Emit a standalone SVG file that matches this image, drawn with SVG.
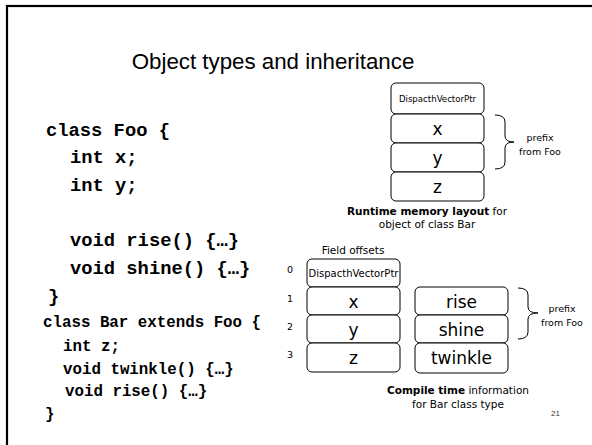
<svg xmlns="http://www.w3.org/2000/svg" width="592" height="445" viewBox="0 0 592 445">
  <style>
    .frame { fill: none; stroke: #000; stroke-width: 2.2; }
    .title { font-family: "Liberation Sans", Arial, sans-serif; font-size: 22.3px; fill: #000; text-anchor: middle; }
    .code1 { font-family: "Liberation Mono", "Courier New", monospace; font-weight: bold; font-size: 18.8px; fill: #000; }
    .code2 { font-family: "Liberation Mono", "Courier New", monospace; font-weight: bold; font-size: 15.8px; fill: #000; }
    .cell { fill: #fff; stroke: #000; stroke-width: 1; }
    .big { font-family: "DejaVu Sans", Verdana, sans-serif; font-size: 17px; text-anchor: middle; fill: #000; }
    .ptr { font-family: "DejaVu Sans", Verdana, sans-serif; text-anchor: middle; fill: #000; }
    .lbl { font-family: "DejaVu Sans", Verdana, sans-serif; font-size: 10.5px; text-anchor: middle; fill: #000; }
    .small { font-family: "DejaVu Sans", Verdana, sans-serif; font-size: 9.5px; text-anchor: middle; fill: #000; }
    .brace { fill: none; stroke: #000; stroke-width: 1; }
    .pg { font-family: "Liberation Sans", Arial, sans-serif; font-size: 8px; fill: #333; }
  </style>

  <rect x="0" y="0" width="592" height="445" fill="#fff"/>
  <!-- slide frame -->
  <rect class="frame" x="7" y="6" width="600" height="450"/>

  <text class="title" x="273" y="69">Object types and inheritance</text>

  <!-- source code -->
  <g id="code-foo">
    <text class="code1" x="46" y="136">class Foo {</text>
    <text class="code1" x="70" y="163">int x;</text>
    <text class="code1" x="70" y="191">int y;</text>
    <text class="code1" x="70" y="246">void rise() {…}</text>
    <text class="code1" x="70" y="274">void shine() {…}</text>
    <text class="code1" x="48" y="302">}</text>
  </g>
  <g id="code-bar">
    <text class="code2" x="43" y="327">class Bar extends Foo {</text>
    <text class="code2" x="63" y="351">int z;</text>
    <text class="code2" x="63" y="374">void twinkle() {…}</text>
    <text class="code2" x="65" y="396">void rise() {…}</text>
    <text class="code2" x="45" y="419">}</text>
  </g>

  <!-- runtime object layout -->
  <g id="runtime-layout">
    <rect class="cell" x="391" y="83" width="93" height="31" rx="5"/>
    <text class="ptr" x="437.5" y="102" font-size="8.6px">DispacthVectorPtr</text>
    <rect class="cell" x="391" y="114" width="93" height="29" rx="5"/>
    <text class="big" x="437.5" y="135">x</text>
    <rect class="cell" x="391" y="143" width="93" height="29" rx="5"/>
    <text class="big" x="437.5" y="164">y</text>
    <rect class="cell" x="391" y="172" width="93" height="29" rx="5"/>
    <text class="big" x="437.5" y="193">z</text>
  </g>
  <g id="runtime-prefix">
    <path class="brace" d="M495,115 Q505,115 505,122 L505,136 Q505,142 514,142 Q505,142 505,148 L505,162 Q505,169 495,169"/>
    <text class="small" x="540" y="141">prefix</text>
    <text class="small" x="540" y="155">from Foo</text>
  </g>
  <g id="runtime-caption">
    <text class="lbl" x="427" y="215"><tspan font-weight="bold">Runtime memory layout</tspan> for</text>
    <text class="lbl" x="427" y="228">object of class Bar</text>
  </g>

  <!-- compile time field offsets -->
  <g id="field-offsets">
    <text class="lbl" x="353" y="254">Field offsets</text>
    <text class="small" x="290" y="273">0</text>
    <text class="small" x="290" y="302">1</text>
    <text class="small" x="290" y="330">2</text>
    <text class="small" x="290" y="358">3</text>
    <rect class="cell" x="307" y="259" width="93" height="28" rx="5"/>
    <text class="ptr" x="353.5" y="277" font-size="10px">DispacthVectorPtr</text>
    <rect class="cell" x="307" y="287" width="93" height="28" rx="5"/>
    <text class="big" x="353.5" y="308">x</text>
    <rect class="cell" x="307" y="315" width="93" height="28" rx="5"/>
    <text class="big" x="353.5" y="336">y</text>
    <rect class="cell" x="307" y="343" width="93" height="29" rx="5"/>
    <text class="big" x="353.5" y="364">z</text>
  </g>

  <!-- compile time method table -->
  <g id="method-table">
    <rect class="cell" x="415" y="287" width="93" height="28" rx="5"/>
    <text class="big" x="461.5" y="308">rise</text>
    <rect class="cell" x="415" y="315" width="93" height="28" rx="5"/>
    <text class="big" x="461.5" y="336">shine</text>
    <rect class="cell" x="415" y="343" width="93" height="30" rx="5"/>
    <text class="big" x="461.5" y="364">twinkle</text>
  </g>
  <g id="method-prefix">
    <path class="brace" d="M518,288 Q528,288 528,295 L528,307 Q528,313 538,313 Q528,313 528,319 L528,332 Q528,339 518,339"/>
    <text class="small" x="562" y="312">prefix</text>
    <text class="small" x="562" y="326">from Foo</text>
  </g>
  <g id="compile-caption">
    <text class="lbl" x="458" y="394"><tspan font-weight="bold">Compile time</tspan> information</text>
    <text class="lbl" x="458" y="408">for Bar class type</text>
  </g>

  <text class="pg" x="551" y="416">21</text>
</svg>
